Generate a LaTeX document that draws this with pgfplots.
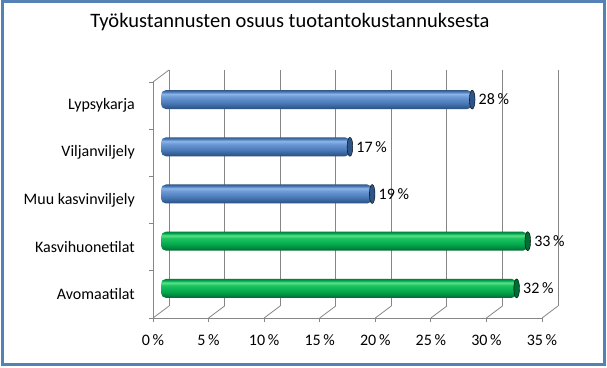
\documentclass[border=0pt]{standalone}
\usepackage{pgfplots}
\pgfplotsset{compat=1.18}
\usepackage{fontspec}
\setmainfont{Carlito}
\definecolor{frameblue}{RGB}{84,130,180}
\definecolor{gridgray}{RGB}{134,134,134}
\definecolor{bD}{RGB}{40,78,125}
\definecolor{bM}{RGB}{70,118,180}
\definecolor{bL}{RGB}{110,155,215}
\definecolor{bH}{RGB}{140,180,232}
\definecolor{bT}{RGB}{50,90,140}
\definecolor{bCap}{RGB}{45,85,135}
\definecolor{gD}{RGB}{0,105,50}
\definecolor{gM}{RGB}{0,165,75}
\definecolor{gL}{RGB}{30,195,95}
\definecolor{gH}{RGB}{90,225,140}
\definecolor{gT}{RGB}{0,130,60}
\definecolor{gCap}{RGB}{0,110,52}
\pgfdeclareverticalshading{bluecyl}{100bp}{color(0bp)=(bD); color(25bp)=(bD); color(40bp)=(bM); color(58bp)=(bL); color(65bp)=(bH); color(71bp)=(bM); color(75bp)=(bT); color(100bp)=(bT)}
\pgfdeclareverticalshading{greencyl}{100bp}{color(0bp)=(gD); color(25bp)=(gD); color(40bp)=(gM); color(58bp)=(gL); color(65bp)=(gH); color(71bp)=(gM); color(75bp)=(gT); color(100bp)=(gT)}
\begin{document}
\begin{tikzpicture}[x=1pt,y=1pt]
\useasboundingbox (0,0) rectangle (607,367);
\fill[white] (0,0) rectangle (607,367);
\draw[frameblue, line width=3pt] (2.5,3) rectangle (604.5,365);
\node[font=\fontsize{20.5}{24}\selectfont] at (290,345) {Työkustannusten osuus tuotantokustannuksesta};
% front axis with labels and back grid
\begin{axis}[at={(153pt,49pt)}, anchor=south west, scale only axis,
  width=389pt, height=236pt,
  xmin=0, xmax=35, ymin=-0.5, ymax=4.5,
  axis x line*=bottom, axis y line*=left,
  axis line style={gridgray, line width=0.8pt, -},
  xtick={0,5,...,35},
  xticklabels={0\,\%,5\,\%,10\,\%,15\,\%,20\,\%,25\,\%,30\,\%,35\,\%},
  ytick={-0.5,0.5,...,4.5}, yticklabels={},
  extra y ticks={0,1,2,3,4},
  extra y tick labels={Avomaatilat,Kasvihuonetilat,Muu kasvinviljely,Viljanviljely,Lypsykarja},
  extra y tick style={tick style={draw=none}},
  tick align=outside, major tick length=4pt,
  tick style={gridgray, line width=0.8pt},
  ticklabel style={font=\fontsize{16}{19}\selectfont, black},
  yticklabel style={anchor=east, inner sep=0pt, xshift=-14pt},
  xticklabel style={anchor=north, inner sep=0pt, yshift=-12pt},
  clip=false]
  \pgfplotsinvokeforeach{0,5,...,35}{
    \draw[gridgray, line width=0.8pt] ([shift={(16pt,12pt)}]axis cs:#1,-0.5) -- ([shift={(16pt,12pt)}]axis cs:#1,4.5);
    \draw[gridgray, line width=0.8pt] (axis cs:#1,-0.5) -- ([shift={(16pt,12pt)}]axis cs:#1,-0.5);
  }
  \draw[gridgray, line width=0.8pt] (axis cs:0,4.5) -- ([shift={(16pt,12pt)}]axis cs:0,4.5);
\end{axis}
% bars at mid depth
\begin{axis}[at={(161pt,55pt)}, anchor=south west, scale only axis,
  width=389pt, height=236pt,
  xmin=0, xmax=35, ymin=-0.5, ymax=4.5,
  hide axis, clip=false]
  \addplot[xbar, bar width=19pt, shade, shading=bluecyl, draw=none, rounded corners=5pt] coordinates {(28,4)};
  \addplot[xbar, bar width=19pt, shade, shading=bluecyl, draw=none, rounded corners=5pt] coordinates {(17,3)};
  \addplot[xbar, bar width=19pt, shade, shading=bluecyl, draw=none, rounded corners=5pt] coordinates {(19,2)};
  \addplot[xbar, bar width=19pt, shade, shading=greencyl, draw=none, rounded corners=5pt] coordinates {(33,1)};
  \addplot[xbar, bar width=19pt, shade, shading=greencyl, draw=none, rounded corners=5pt] coordinates {(32,0)};
  \addplot[only marks, mark=*, mark size=9.5pt, mark options={xscale=0.3, fill=bCap, draw=none},
    nodes near coords, point meta=explicit symbolic,
    every node near coord/.append style={anchor=west, font=\fontsize{16}{19}\selectfont, black, xshift=3pt}]
    coordinates {(28,4)[28\,\%] (17,3)[17\,\%] (19,2)[19\,\%]};
  \addplot[only marks, mark=*, mark size=9.5pt, mark options={xscale=0.3, fill=gCap, draw=none},
    nodes near coords, point meta=explicit symbolic,
    every node near coord/.append style={anchor=west, font=\fontsize{16}{19}\selectfont, black, xshift=3pt}]
    coordinates {(33,1)[33\,\%] (32,0)[32\,\%]};
\end{axis}
\end{tikzpicture}
\end{document}
